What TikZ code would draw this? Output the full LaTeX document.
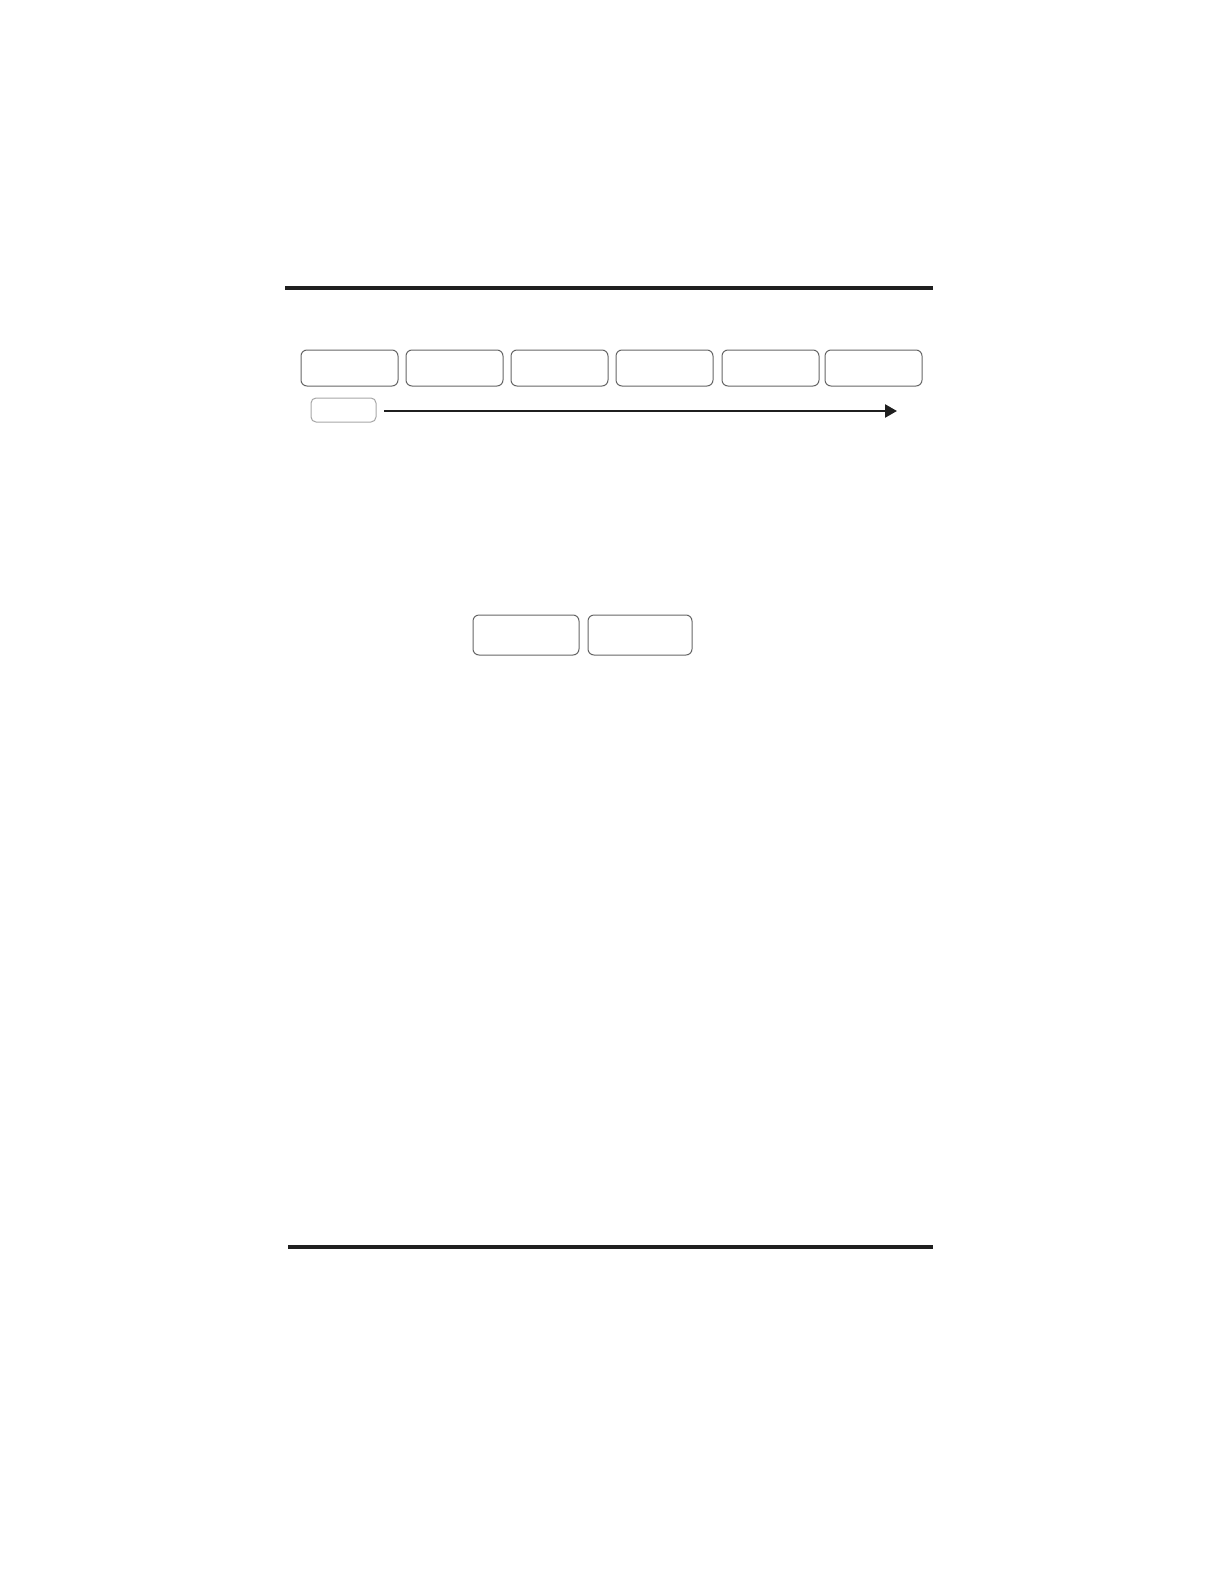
\documentclass[tikz,border=0pt]{standalone}
\usetikzlibrary{arrows.meta}
\begin{document}
\begin{tikzpicture}[x=0.5pt,y=-0.5pt,
  rule/.style={line width=2pt,color=black!88},
  box/.style={draw=black!60,line width=0.5pt,rounded corners=3pt,rectangle,inner sep=0pt,outer sep=0pt,minimum height=18pt,minimum width=48.5pt},
  smallbox/.style={draw=black!35,line width=0.5pt,rounded corners=2.5pt,rectangle,inner sep=0pt,outer sep=0pt,minimum height=12pt,minimum width=32.5pt},
  lowbox/.style={draw=black!60,line width=0.5pt,rounded corners=3pt,rectangle,inner sep=0pt,outer sep=0pt,minimum height=20pt,minimum width=53pt},
  flow/.style={line width=1.2pt,color=black!88,-{Triangle[length=6pt,width=6.5pt]}}]
\useasboundingbox (0,0) rectangle (1224,1584);
% rules
\coordinate (t1) at (285,288);
\coordinate (t2) at (933,288);
\coordinate (b1) at (288,1247);
\coordinate (b2) at (933,1247);
\draw[rule] (t1) -- (t2);
\draw[rule] (b1) -- (b2);
% top row boxes
\node[box] (c1) at (349.5,368) {};
\node[box] (c2) at (454.5,368) {};
\node[box] (c3) at (559.5,368) {};
\node[box] (c4) at (664.5,368) {};
\node[box] (c5) at (770.5,368) {};
\node[box] (c6) at (873.5,368) {};
% small box and arrow
\node[smallbox] (s) at (343.5,410) {};
\coordinate (a1) at (384,411);
\coordinate (a2) at (897,411);
\draw[flow] (a1) -- (a2);
% lower boxes
\node[lowbox] (d1) at (526,635) {};
\node[lowbox,minimum width=52pt] (d2) at (640,635) {};
\end{tikzpicture}
\end{document}
